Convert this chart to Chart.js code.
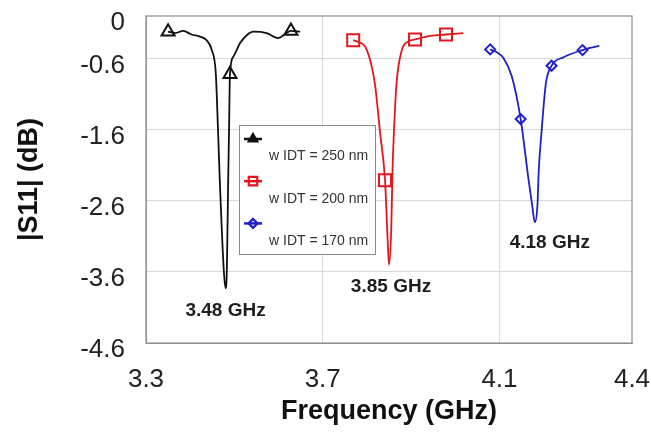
<!DOCTYPE html>
<html>
<head>
<meta charset="utf-8">
<script src="https://cdn.jsdelivr.net/npm/chart.js@4.4.1/dist/chart.umd.min.js"></script>
<style>
  html, body { margin: 0; padding: 0; background: #fff; }
  #wrap { width: 651px; height: 432px; }
</style>
</head>
<body>
<div id="wrap"><canvas id="c" width="651" height="432"></canvas></div>
<script>
// Axis ticks
const xTicks = [3.3, 3.7, 4.1, 4.4];
const yTicks = [0, -0.6, -1.6, -2.6, -3.6, -4.6];

// w IDT = 250 nm
const freq250 = [3.350, 3.366, 3.384, 3.403, 3.422, 3.437, 3.449, 3.458, 3.463, 3.467, 3.476, 3.480, 3.483, 3.486, 3.488, 3.490, 3.498, 3.513, 3.528, 3.543, 3.573, 3.599, 3.618, 3.628, 3.649];
const s11_250  = [-0.22, -0.24, -0.21, -0.26, -0.29, -0.34, -0.48, -0.81, -1.60, -2.31, -3.57, -3.83, -3.57, -2.31, -1.60, -0.82, -0.57, -0.38, -0.27, -0.22, -0.24, -0.31, -0.24, -0.21, -0.22];
const marks250 = [3.350, 3.490, 3.628];

// w IDT = 200 nm
const freq200 = [3.769, 3.778, 3.800, 3.818, 3.830, 3.841, 3.846, 3.850, 3.855, 3.858, 3.861, 3.867, 3.879, 3.893, 3.909, 3.943, 3.979, 4.018];
const s11_200  = [-0.34, -0.36, -0.48, -0.95, -1.65, -2.31, -3.01, -3.50, -3.01, -2.17, -1.65, -0.95, -0.48, -0.36, -0.33, -0.28, -0.26, -0.24];
const marks200 = [3.769, 3.841, 3.909, 3.979];

// w IDT = 170 nm
const freq170 = [4.079, 4.094, 4.109, 4.128, 4.148, 4.166, 4.174, 4.180, 4.186, 4.189, 4.195, 4.205, 4.218, 4.245, 4.288, 4.326];
const s11_170  = [-0.47, -0.51, -0.59, -0.85, -1.45, -2.31, -2.66, -2.90, -2.66, -2.17, -1.65, -0.95, -0.70, -0.58, -0.48, -0.42];
const marks170 = [4.079, 4.148, 4.218, 4.288];

const seriesNames = ['w IDT = 250 nm', 'w IDT = 200 nm', 'w IDT = 170 nm'];

const FONT = "'Liberation Sans', Arial, Helvetica, sans-serif";
const styles = [
  { color: '#111111', point: 'triangle', radius: 7.5, legendRadius: 5, legendFill: '#111111' },
  { color: '#e3161d', point: 'rect',     radius: 8.5, legendRadius: 6, legendFill: 'rgba(0,0,0,0)' },
  { color: '#2020c8', point: 'rectRot',  radius: 5,   legendRadius: 4.5, legendFill: 'rgba(0,0,0,0)' }
];

function toPoints(xs, ys) { return xs.map((x, i) => ({ x: x, y: ys[i] })); }

const series = [
  { name: seriesNames[0], freq: freq250, s11: s11_250, marks: marks250 },
  { name: seriesNames[1], freq: freq200, s11: s11_200, marks: marks200 },
  { name: seriesNames[2], freq: freq170, s11: s11_170, marks: marks170 }
];

const datasets = series.map((s, i) => ({
  label: s.name,
  data: toPoints(s.freq, s.s11),
  borderColor: styles[i].color,
  borderWidth: 1.8,
  cubicInterpolationMode: 'monotone',
  pointStyle: styles[i].point,
  pointBorderColor: styles[i].color,
  pointBackgroundColor: 'rgba(0,0,0,0)',
  pointBorderWidth: 2,
  pointRadius: ctx => s.marks.includes(ctx.raw.x) ? styles[i].radius : 0,
  pointHoverRadius: ctx => s.marks.includes(ctx.raw.x) ? styles[i].radius : 0,
  fill: false
}));

// Resonance labels placed under each dip (offsets in px)
const dipLabelOffsets = [[0, 23], [2, 22], [15, 21]];

const framePlugin = {
  id: 'frame',
  afterDraw(chart) {
    const { ctx, chartArea: a } = chart;
    ctx.save();
    ctx.strokeStyle = '#8f8f8f';
    ctx.lineWidth = 1.2;
    ctx.strokeRect(a.left, a.top, a.right - a.left, a.bottom - a.top);
    ctx.restore();
  }
};

const dipLabelPlugin = {
  id: 'dipLabels',
  afterDatasetsDraw(chart) {
    const { ctx, scales: { x, y } } = chart;
    ctx.save();
    ctx.font = 'bold 19px ' + FONT;
    ctx.fillStyle = '#1e1e1e';
    ctx.textAlign = 'center';
    ctx.textBaseline = 'middle';
    series.forEach((s, i) => {
      let k = 0;
      s.s11.forEach((v, j) => { if (v < s.s11[k]) k = j; });
      const px = x.getPixelForValue(s.freq[k]) + dipLabelOffsets[i][0];
      const py = y.getPixelForValue(s.s11[k]) + dipLabelOffsets[i][1];
      ctx.fillText(s.freq[k].toFixed(2) + ' GHz', px, py);
    });
    ctx.restore();
  }
};

const legendPlugin = {
  id: 'boxLegend',
  afterDraw(chart) {
    const ctx = chart.ctx;
    const bx = 239.5, by = 125.5, bw = 136, bh = 129;
    ctx.save();
    ctx.fillStyle = '#ffffff';
    ctx.fillRect(bx, by, bw, bh);
    ctx.strokeStyle = '#8a8a8a';
    ctx.lineWidth = 1;
    ctx.strokeRect(bx, by, bw, bh);
    series.forEach((s, i) => {
      const sy = 139 + i * 42.2;
      const ty = 156.5 + i * 42.3;
      ctx.strokeStyle = styles[i].color;
      ctx.lineWidth = 2.5;
      ctx.beginPath();
      ctx.moveTo(244, sy);
      ctx.lineTo(262, sy);
      ctx.stroke();
      ctx.fillStyle = styles[i].legendFill;
      ctx.lineWidth = 2.2;
      Chart.helpers.drawPoint(ctx, {
        pointStyle: styles[i].point,
        radius: styles[i].legendRadius,
        rotation: 0,
        borderWidth: 2.2
      }, 253, sy);
      ctx.fillStyle = '#333333';
      ctx.font = '14px ' + FONT;
      ctx.textAlign = 'left';
      ctx.textBaseline = 'middle';
      ctx.fillText(s.name, 269, ty);
    });
    ctx.restore();
  }
};

const gridColor = '#d8d8d8';

new Chart(document.getElementById('c'), {
  type: 'line',
  data: { datasets },
  options: {
    responsive: false,
    animation: false,
    devicePixelRatio: 1,
    layout: { padding: { top: 16, right: 19, left: 0, bottom: 0 } },
    plugins: {
      legend: { display: false },
      tooltip: { enabled: false }
    },
    scales: {
      x: {
        type: 'linear',
        min: 3.3,
        max: 4.4,
        afterBuildTicks: sc => { sc.ticks = xTicks.map(v => ({ value: v })); },
        afterFit: sc => { sc.height = 89; sc.paddingLeft = 0; sc.paddingRight = 0; },
        grid: {
          drawTicks: false,
          color: c => (c.tick && (c.tick.value === 3.3 || c.tick.value === 4.4)) ? 'rgba(0,0,0,0)' : gridColor,
          lineWidth: 1
        },
        border: { display: true, color: '#8f8f8f', width: 1 },
        ticks: {
          padding: 21,
          color: '#222222',
          font: { family: FONT, size: 26 },
          maxRotation: 0,
          autoSkip: false,
          callback: v => Number(v).toFixed(1)
        },
        title: {
          display: true,
          text: 'Frequency (GHz)',
          color: '#111111',
          font: { family: FONT, size: 27, weight: 'bold' },
          padding: { top: 0, bottom: 4 }
        }
      },
      y: {
        type: 'linear',
        min: -4.6,
        max: 0,
        afterBuildTicks: sc => { sc.ticks = yTicks.map(v => ({ value: v })); },
        afterFit: sc => { sc.width = 146; sc.paddingTop = 0; sc.paddingBottom = 0; },
        grid: {
          drawTicks: false,
          color: c => (c.tick && (c.tick.value === 0 || c.tick.value === -4.6)) ? 'rgba(0,0,0,0)' : gridColor,
          lineWidth: 1
        },
        border: { display: true, color: '#8f8f8f', width: 1 },
        ticks: {
          padding: 21,
          labelOffset: 7,
          color: '#222222',
          font: { family: FONT, size: 26 },
          autoSkip: false,
          callback: v => (v === 0 ? '0' : Number(v).toFixed(1))
        },
        title: {
          display: true,
          text: '|S11| (dB)',
          color: '#111111',
          font: { family: FONT, size: 27, weight: 'bold' },
          padding: { top: 13, bottom: 0 }
        }
      }
    }
  },
  plugins: [framePlugin, dipLabelPlugin, legendPlugin]
});
</script>
</body>
</html>
